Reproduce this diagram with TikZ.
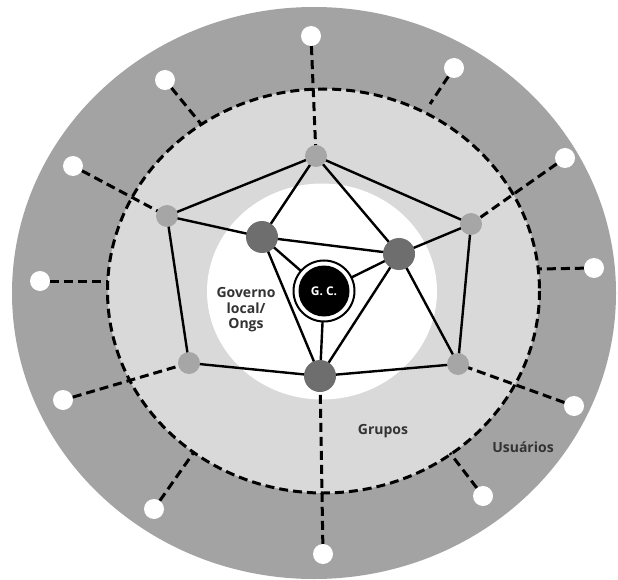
\documentclass[tikz,border=0pt]{standalone}
\usepackage{fontspec}
\setmainfont{Open Sans}
\begin{document}
\begin{tikzpicture}[x=1pt,y=-1pt,
  dline/.style={line width=3pt, dash pattern=on 9pt off 5pt},
  sline/.style={line width=2.4pt},
  usr/.style={circle, fill=white, minimum size=20pt, inner sep=0pt},
  grp/.style={circle, fill=lightnode, minimum size=22pt, inner sep=0pt},
  gov/.style={circle, fill=darknode, minimum size=32pt, inner sep=0pt},
  lbl/.style={font=\bfseries\fontsize{14}{15.5}\selectfont, text=labeltext, align=center}]
\definecolor{outerring}{HTML}{A3A3A3}
\definecolor{midring}{HTML}{D9D9D9}
\definecolor{lightnode}{HTML}{A6A6A6}
\definecolor{darknode}{HTML}{6E6E6E}
\definecolor{labeltext}{HTML}{333333}
\useasboundingbox (0,0) rectangle (618,580);
% rings
\fill[outerring] (314,293) ellipse [x radius=302, y radius=286];
\fill[midring] (323.5,291) ellipse [x radius=216, y radius=202];
\fill[white] (322,291.5) ellipse [x radius=115, y radius=108];
\draw[dline] (323.5,291) ellipse [x radius=216, y radius=202];
% nodes positions
\coordinate (T) at (316,156);
\coordinate (UL) at (167,216);
\coordinate (UR) at (471,224);
\coordinate (LL) at (189,363);
\coordinate (LR) at (458,364);
\coordinate (DL) at (262,237);
\coordinate (DR) at (399,254);
\coordinate (DB) at (320,376);
\coordinate (GCc) at (324,291);
% user nodes
\node[usr] (u1) at (311,36) {};
\node[usr] (u2) at (454,68) {};
\node[usr] (u3) at (565,158) {};
\node[usr] (u4) at (594,268) {};
\node[usr] (u5) at (574,406) {};
\node[usr] (u6) at (483,496) {};
\node[usr] (u7) at (323,554) {};
\node[usr] (u8) at (154,509) {};
\node[usr] (u9) at (63,400) {};
\node[usr] (u10) at (40,281) {};
\node[usr] (u11) at (73,166) {};
\node[usr] (u12) at (165,80) {};
% ends on dashed ring
\coordinate (e2) at (430,104);
\coordinate (e4) at (539,269);
\coordinate (e6) at (450,453);
\coordinate (e8) at (194,452);
\coordinate (e10) at (108,281);
\coordinate (e12) at (201,124);
% dashed connectors
\draw[dline] (u1) -- (T);
\draw[dline] (u2) -- (e2);
\draw[dline] (u3) -- (UR);
\draw[dline] (u4) -- (e4);
\draw[dline] (u5) -- (LR);
\draw[dline] (u6) -- (e6);
\draw[dline] (u7) -- (DB);
\draw[dline] (u8) -- (e8);
\draw[dline] (u9) -- (LL);
\draw[dline] (u10) -- (e10);
\draw[dline] (u11) -- (UL);
\draw[dline] (u12) -- (e12);
% solid connectors
\draw[sline] (T) -- (UL);
\draw[sline] (T) -- (UR);
\draw[sline] (T) -- (DL);
\draw[sline] (T) -- (DR);
\draw[sline] (UL) -- (DL);
\draw[sline] (UL) -- (LL);
\draw[sline] (UR) -- (DR);
\draw[sline] (UR) -- (LR);
\draw[sline] (DL) -- (DR);
\draw[sline] (DL) -- (GCc);
\draw[sline] (DR) -- (GCc);
\draw[sline] (DL) -- (DB);
\draw[sline] (DR) -- (DB);
\draw[sline] (GCc) -- (DB);
\draw[sline] (LL) -- (DB);
\draw[sline] (DB) -- (LR);
\draw[sline] (DR) -- (LR);
% node discs
\node[grp] (nT) at (T) {};
\node[grp] (nUL) at (UL) {};
\node[grp] (nUR) at (UR) {};
\node[grp] (nLL) at (LL) {};
\node[grp] (nLR) at (LR) {};
\node[gov] (nDL) at (DL) {};
\node[gov] (nDR) at (DR) {};
\node[gov] (nDB) at (DB) {};
\node[circle, draw=black, line width=2pt, fill=white, minimum size=61pt, inner sep=0pt] (gcring) at (GCc) {};
\node[circle, fill=black, minimum size=51pt, inner sep=0pt, text=white, font=\bfseries\fontsize{12}{14}\selectfont] (gc) at (GCc) {G. C.};
% labels
\node[lbl] (gov) at (246,310) {Governo\\local/\\Ongs};
\node[lbl] (grupos) at (383,431) {Grupos};
\node[lbl] (usuarios) at (523,447) {Usuários};
\end{tikzpicture}
\end{document}
